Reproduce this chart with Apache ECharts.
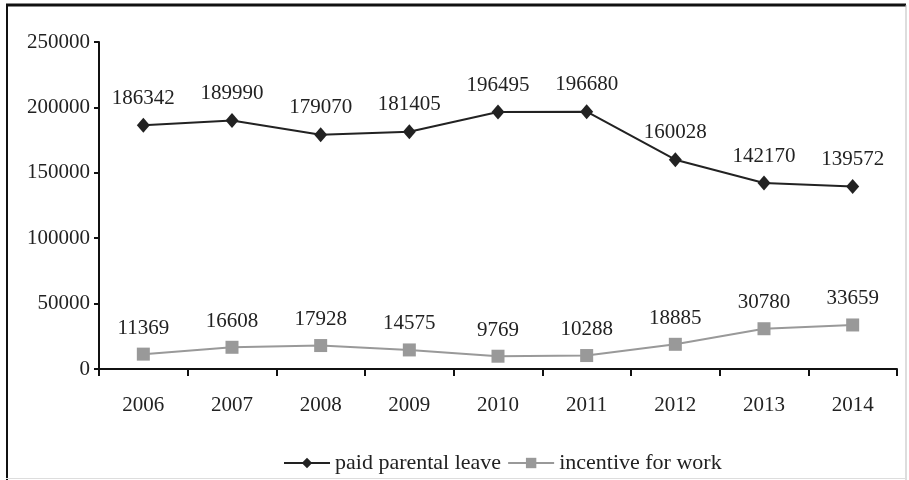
<!DOCTYPE html>
<html><head><meta charset="utf-8">
<script src="https://cdn.jsdelivr.net/npm/echarts@6/dist/echarts.min.js"></script>
<style>html,body{margin:0;padding:0;background:#fff}#c{width:909px;height:480px}</style>
</head><body><div id="c"></div>
<script>
var years = ['2006','2007','2008','2009','2010','2011','2012','2013','2014'];
var paidParentalLeave = [186342,189990,179070,181405,196495,196680,160028,142170,139572];
var incentiveForWork = [11369,16608,17928,14575,9769,10288,18885,30780,33659];
var yTicks = [0,50000,100000,150000,200000,250000];

var font = '"Liberation Serif","Times New Roman",serif';
var chart = echarts.init(document.getElementById('c'));
chart.setOption({
  animation:false,
  backgroundColor:'#fff',
  textStyle:{fontFamily:font},
  graphic:[
    {type:'line',shape:{x1:6,y1:5,x2:906,y2:5},style:{stroke:'#111',lineWidth:3}},
    {type:'line',shape:{x1:7,y1:5,x2:7,y2:480},style:{stroke:'#111',lineWidth:2}},
    {type:'line',shape:{x1:906,y1:5,x2:906,y2:480},style:{stroke:'#bbb',lineWidth:1}},
    {type:'line',shape:{x1:6,y1:478.5,x2:906,y2:478.5},style:{stroke:'#ddd',lineWidth:1}}
  ],
  grid:{left:99,right:12,top:42,bottom:111},
  legend:{
    left:278,bottom:1,itemWidth:46,itemHeight:13,itemGap:6,
    textStyle:{fontFamily:font,fontSize:22,color:'#222'},
    data:['paid parental leave','incentive for work']
  },
  xAxis:{
    type:'category',data:years,boundaryGap:true,
    axisLine:{lineStyle:{color:'#111',width:2}},
    axisTick:{show:true,length:7,lineStyle:{color:'#111',width:2}},
    axisLabel:{fontFamily:font,fontSize:21,color:'#222',margin:26}
  },
  yAxis:{
    type:'value',min:yTicks[0],max:yTicks[yTicks.length-1],interval:50000,
    splitLine:{show:false},
    axisLine:{show:true,lineStyle:{color:'#111',width:2}},
    axisTick:{show:true,length:5,lineStyle:{color:'#111',width:2}},
    axisLabel:{fontFamily:font,fontSize:21,color:'#222',margin:9,formatter:function(v){return String(v);}}
  },
  series:[
    {name:'paid parental leave',type:'line',data:paidParentalLeave,
     symbol:'diamond',symbolSize:[13,15],
     lineStyle:{color:'#222',width:2},itemStyle:{color:'#222'},
     label:{show:true,position:'top',distance:9,fontFamily:font,fontSize:21,color:'#222'}},
    {name:'incentive for work',type:'line',data:incentiveForWork,
     symbol:'rect',symbolSize:13,
     lineStyle:{color:'#999',width:2},itemStyle:{color:'#999'},
     label:{show:true,position:'top',distance:9,fontFamily:font,fontSize:21,color:'#222'}}
  ]
});
</script></body></html>
